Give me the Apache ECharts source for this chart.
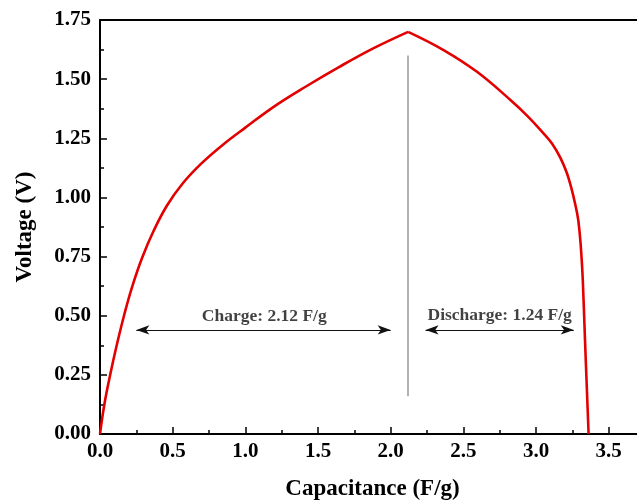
<!DOCTYPE html>
<html>
<head>
<meta charset="utf-8">
<script src="https://cdn.jsdelivr.net/npm/echarts@6/dist/echarts.min.js"></script>
<style>
  html, body { margin: 0; padding: 0; background: #fff; overflow: hidden; }
  #chart { width: 637px; height: 502px; }
</style>
</head>
<body>
<div id="chart"></div>
<script>
// Galvanostatic charge branch: capacitance (F/g) vs voltage (V)
const chargeCap = [0, 0.03, 0.07, 0.115, 0.165, 0.22, 0.29, 0.37, 0.46, 0.57, 0.70, 0.85, 1.0, 1.2, 1.42, 1.65, 1.88, 2.12];
const chargeVolt = [0, 0.125, 0.25, 0.375, 0.50, 0.62, 0.745, 0.86, 0.965, 1.06, 1.145, 1.225, 1.295, 1.385, 1.47, 1.553, 1.630, 1.70];

// Discharge branch, continuing from the charge peak
const dischargeCap = [2.12, 2.364, 2.594, 2.824, 2.94, 3.053, 3.11, 3.168, 3.225, 3.283, 3.302, 3.314, 3.322, 3.337, 3.350, 3.362];
const dischargeVolt = [1.70, 1.623, 1.531, 1.412, 1.345, 1.270, 1.228, 1.167, 1.08, 0.933, 0.84, 0.74, 0.65, 0.40, 0.19, 0];

// Capacity annotations
const chargeLabel = 'Charge: 2.12 F/g';
const dischargeLabel = 'Discharge: 1.24 F/g';
const chargeSpan = [0.25, 2.0];
const dischargeSpan = [2.24, 3.26];
const spanVolt = 0.44;
const dividerVolt = [0.16, 1.6];

const xTicks = [0, 0.5, 1.0, 1.5, 2.0, 2.5, 3.0, 3.5];
const yTicks = [0, 0.25, 0.5, 0.75, 1.0, 1.25, 1.5, 1.75];

const zip = (xs, ys) => xs.map((x, i) => [x, ys[i]]);
const peakCap = chargeCap[chargeCap.length - 1];

const FONT = '"Liberation Serif", "Times New Roman", serif';
const chart = echarts.init(document.getElementById('chart'), null, { renderer: 'canvas' });

const arrowLine = { color: '#111', width: 1.2, type: 'solid' };

chart.setOption({
  animation: false,
  backgroundColor: '#fff',
  grid: { left: 100, top: 20, width: 545, height: 414, containLabel: false, outerBoundsMode: 'none' },
  xAxis: [{
    type: 'value', min: 0, max: 3.75, interval: 0.5,
    name: 'Capacitance (F/g)', nameLocation: 'middle', nameGap: 44,
    nameTextStyle: { fontFamily: FONT, fontWeight: 'bold', fontSize: 23, color: '#000' },
    axisLine: { show: true, onZero: false, lineStyle: { color: '#000', width: 2 } },
    axisTick: { show: true, inside: true, length: 7, lineStyle: { color: '#000', width: 1.5 } },
    minorTick: { show: true, splitNumber: 2, length: 4, lineStyle: { color: '#000', width: 1.5 } },
    axisLabel: {
      fontFamily: FONT, fontWeight: 'bold', fontSize: 21, color: '#000', margin: 7,
      showMaxLabel: false,
      formatter: v => xTicks.some(t => Math.abs(t - v) < 1e-9) ? v.toFixed(1) : ''
    },
    splitLine: { show: false }
  }, {
    type: 'value', position: 'top', min: 0, max: 3.75,
    axisLine: { show: true, onZero: false, lineStyle: { color: '#000', width: 2 } },
    axisTick: { show: false }, axisLabel: { show: false }, splitLine: { show: false }
  }],
  yAxis: {
    type: 'value', min: 0, max: 1.75, interval: 0.25,
    name: 'Voltage (V)', nameLocation: 'middle', nameGap: 63,
    nameTextStyle: { fontFamily: FONT, fontWeight: 'bold', fontSize: 23, color: '#000' },
    axisLine: { show: true, onZero: false, lineStyle: { color: '#000', width: 2 } },
    axisTick: { show: true, inside: true, length: 7, lineStyle: { color: '#000', width: 1.5 } },
    minorTick: { show: true, splitNumber: 2, length: 4, lineStyle: { color: '#000', width: 1.5 } },
    axisLabel: {
      fontFamily: FONT, fontWeight: 'bold', fontSize: 21, color: '#000', margin: 9,
      formatter: v => yTicks.some(t => Math.abs(t - v) < 1e-9) ? v.toFixed(2) : ''
    },
    splitLine: { show: false }
  },
  series: [
    {
      name: 'charge', type: 'line', data: zip(chargeCap, chargeVolt),
      smooth: 0.4, symbol: 'none',
      lineStyle: { color: '#e30000', width: 2.6 }, z: 5
    },
    {
      name: 'discharge', type: 'line', data: zip(dischargeCap, dischargeVolt),
      smooth: 0.4, symbol: 'none',
      lineStyle: { color: '#e30000', width: 2.6 }, z: 5,
      markLine: {
        silent: true, animation: false,
        label: { show: false },
        data: [
          [
            { coord: [peakCap, dividerVolt[0]], symbol: 'none', lineStyle: { color: '#999', width: 1.5, type: 'solid' } },
            { coord: [peakCap, dividerVolt[1]], symbol: 'none' }
          ],
          [
            { coord: [chargeSpan[0], spanVolt], symbol: 'arrow', symbolSize: [7, 13], lineStyle: arrowLine },
            { coord: [chargeSpan[1], spanVolt], symbol: 'arrow', symbolSize: [7, 13] }
          ],
          [
            { coord: [dischargeSpan[0], spanVolt], symbol: 'arrow', symbolSize: [7, 13], lineStyle: arrowLine },
            { coord: [dischargeSpan[1], spanVolt], symbol: 'arrow', symbolSize: [7, 13] }
          ]
        ]
      }
    },
    {
      name: 'labels', type: 'scatter', symbolSize: 0, silent: true,
      data: [
        { value: [(chargeSpan[0] + chargeSpan[1]) / 2 + 0.005, 0.495], label: { formatter: chargeLabel } },
        { value: [(dischargeSpan[0] + dischargeSpan[1]) / 2, 0.499], label: { formatter: dischargeLabel } }
      ],
      label: {
        show: true, position: 'inside',
        fontFamily: FONT, fontWeight: 'bold', fontSize: 17.5, color: '#111'
      }
    }
  ]
});
</script>
</body>
</html>
